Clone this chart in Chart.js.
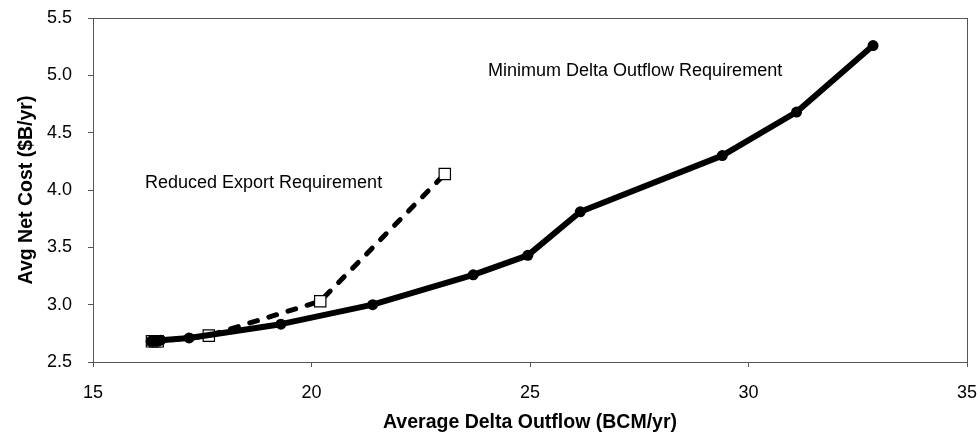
<!DOCTYPE html>
<html>
<head>
<meta charset="utf-8">
<script src="https://cdn.jsdelivr.net/npm/chart.js@4"></script>
<style>
    html, body { margin: 0; padding: 0; background: #fff; }
    #wrap { width: 977px; height: 432px; }
</style>
</head>
<body>
<div id="wrap"><canvas id="costChart" width="977" height="432"></canvas></div>
<script>
// Minimum Delta Outflow Requirement (solid, filled circles)
const minOutflowX = [16.33, 16.4, 16.47, 16.55, 17.2, 19.3, 21.4, 23.7, 24.95, 26.15, 29.4, 31.1, 32.85];
const minOutflowY = [2.68, 2.68, 2.68, 2.69, 2.71, 2.83, 3.0, 3.26, 3.43, 3.81, 4.30, 4.68, 5.26];

// Reduced Export Requirement (dashed, open squares)
const reducedExportX = [16.35, 16.42, 16.48, 17.65, 20.2, 23.05];
const reducedExportY = [2.68, 2.68, 2.68, 2.73, 3.03, 4.14];

const xTicks = [15, 20, 25, 30, 35];
const yTicks = [2.5, 3.0, 3.5, 4.0, 4.5, 5.0, 5.5];

// text labels placed in data units
const notes = [
    { text: 'Minimum Delta Outflow Requirement', x: 24.04, y: 5.04 },
    { text: 'Reduced Export Requirement', x: 16.19, y: 4.06 }
];

const toPoints = (xs, ys) => xs.map((x, i) => ({ x: x, y: ys[i] }));

const fontFamily = '"Liberation Sans", Arial, sans-serif';

// keep the plot box fixed: no extra room for overhanging tick labels
function noOverhang(scale) {
    scale.paddingLeft = 0;
    scale.paddingRight = 0;
    scale.paddingTop = 0;
    scale.paddingBottom = 0;
}

// frame around the plot + text notes
const framePlugin = {
    id: 'frame',
    beforeDatasetsDraw(chart) {
        const a = chart.chartArea;
        const ctx = chart.ctx;
        ctx.save();
        ctx.strokeStyle = '#555';
        ctx.lineWidth = 1;
        ctx.strokeRect(a.left + 0.5, a.top + 0.5, a.right - a.left, a.bottom - a.top);
        ctx.restore();
    },
    afterDatasetsDraw(chart) {
        const ctx = chart.ctx;
        const xs = chart.scales.x, ys = chart.scales.y;
        ctx.save();
        ctx.fillStyle = '#000';
        ctx.font = '18px ' + fontFamily;
        ctx.textBaseline = 'middle';
        ctx.textAlign = 'left';
        notes.forEach(n => {
            ctx.fillText(n.text, xs.getPixelForValue(n.x), ys.getPixelForValue(n.y));
        });
        ctx.restore();
    }
};

const ctx = document.getElementById('costChart').getContext('2d');
new Chart(ctx, {
    type: 'line',
    data: {
        datasets: [
            {
                label: 'Minimum Delta Outflow Requirement',
                data: toPoints(minOutflowX, minOutflowY),
                borderColor: '#000',
                borderWidth: 6,
                borderJoinStyle: 'round',
                pointStyle: 'circle',
                pointRadius: 5.5,
                pointBackgroundColor: '#000',
                pointBorderColor: '#000',
                pointBorderWidth: 0,
                tension: 0
            },
            {
                label: 'Reduced Export Requirement',
                data: toPoints(reducedExportX, reducedExportY),
                borderColor: '#000',
                borderWidth: 5,
                borderDash: [8, 12],
                borderCapStyle: 'round',
                pointStyle: 'rect',
                pointRadius: 8,
                pointBackgroundColor: '#fff',
                pointBorderColor: '#000',
                pointBorderWidth: 1.2,
                tension: 0
            }
        ]
    },
    options: {
        responsive: false,
        animation: false,
        layout: { padding: { left: 0, top: 18, right: 10, bottom: 0 } },
        plugins: {
            legend: { display: false },
            tooltip: { enabled: false }
        },
        scales: {
            x: {
                type: 'linear',
                min: 15,
                max: 35,
                afterBuildTicks: scale => { scale.ticks = xTicks.map(v => ({ value: v })); },
                afterFit: scale => { scale.height = 70; noOverhang(scale); },
                grid: { display: true, drawOnChartArea: false, drawTicks: true, tickLength: 5, color: '#555' },
                border: { display: true, color: '#555' },
                ticks: {
                    color: '#000',
                    padding: 17,
                    font: { family: fontFamily, size: 18, lineHeight: 1 },
                    callback: v => String(v)
                },
                title: {
                    display: true,
                    text: 'Average Delta Outflow (BCM/yr)',
                    color: '#000',
                    padding: { top: 0, bottom: 0 },
                    font: { family: fontFamily, size: 19.5, weight: 'bold', lineHeight: 1 }
                }
            },
            y: {
                type: 'linear',
                min: 2.5,
                max: 5.5,
                afterBuildTicks: scale => { scale.ticks = yTicks.map(v => ({ value: v })); },
                afterFit: scale => { scale.width = 93; noOverhang(scale); },
                grid: { display: true, drawOnChartArea: false, drawTicks: true, tickLength: 5, color: '#555' },
                border: { display: true, color: '#555' },
                ticks: {
                    color: '#000',
                    padding: 16,
                    font: { family: fontFamily, size: 18 },
                    callback: v => v.toFixed(1)
                },
                title: {
                    display: true,
                    text: 'Avg Net Cost ($B/yr)',
                    color: '#000',
                    padding: { top: 17, bottom: 0 },
                    font: { family: fontFamily, size: 19.5, weight: 'bold', lineHeight: 1 }
                }
            }
        }
    },
    plugins: [framePlugin]
});
</script>
</body>
</html>
